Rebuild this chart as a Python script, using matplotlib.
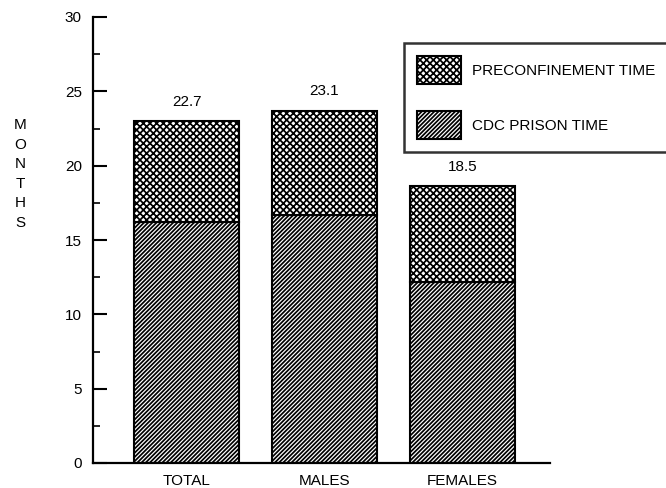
import matplotlib
matplotlib.use("Agg")
import matplotlib.pyplot as plt
from matplotlib.patches import Patch
from matplotlib.ticker import MultipleLocator

plt.rcParams['font.family'] = ['Liberation Sans', 'DejaVu Sans']
plt.rcParams['hatch.linewidth'] = 1.25

categories = ["TOTAL", "MALES", "FEMALES"]
prison_time = [16.2, 16.7, 12.2]
preconfinement_time = [6.8, 7.0, 6.4]
total_labels = ["22.7", "23.1", "18.5"]

FS = 11
fig = plt.figure(figsize=(6.66, 4.88), dpi=100)
ax = fig.add_axes([93/666, 1-463/488, (550-93)/666, (463-17)/488])

x = list(range(len(categories)))
width = 0.76
ax.bar(x, prison_time, width, color="white", edgecolor="black",
       hatch="////////", linewidth=1.5, label="CDC PRISON TIME")
ax.bar(x, preconfinement_time, width, bottom=prison_time, color="white",
       edgecolor="black", hatch="xxxxx", linewidth=1.5,
       label="PRECONFINEMENT TIME")

for xi, p, q, lab in zip(x, prison_time, preconfinement_time, total_labels):
    ax.text(xi, p + q + 1.3, lab, ha="center", va="center", fontsize=FS)

ax.set_xlim(-0.678, 2.634)
ax.set_ylim(0, 30)
ax.set_xticks(x)
ax.set_xticklabels(categories, fontsize=FS)
ax.tick_params(axis="x", length=0, pad=8)
ax.yaxis.set_major_locator(MultipleLocator(5))
ax.yaxis.set_minor_locator(MultipleLocator(2.5))
ax.tick_params(axis="y", which="major", direction="in", length=10, width=1.5,
               labelsize=FS, pad=8)
ax.tick_params(axis="y", which="minor", direction="in", length=5, width=1.2)
for s in ["top", "right"]:
    ax.spines[s].set_visible(False)
for s in ["left", "bottom"]:
    ax.spines[s].set_linewidth(1.6)

fig.text(20/666, 1-174/488, "M\nO\nN\nT\nH\nS", ha="center", va="center",
         fontsize=FS, linespacing=1.5)

handles = [Patch(facecolor="white", edgecolor="black", hatch="xxxxx", linewidth=1.5),
           Patch(facecolor="white", edgecolor="black", hatch="////////", linewidth=1.5)]
leg = fig.legend(handles, ["PRECONFINEMENT TIME", "CDC PRISON TIME"],
                 loc="upper left", bbox_to_anchor=(404/666, 1-43/488),
                 bbox_transform=fig.transFigure, fontsize=FS,
                 frameon=True, fancybox=False, edgecolor="black",
                 handlelength=2.9, handleheight=2.44, handletextpad=0.72,
                 labelspacing=1.77, borderpad=0.85, borderaxespad=0)
leg.get_frame().set_linewidth(1.8)

fig.savefig("out.png", dpi=100, facecolor="white")
